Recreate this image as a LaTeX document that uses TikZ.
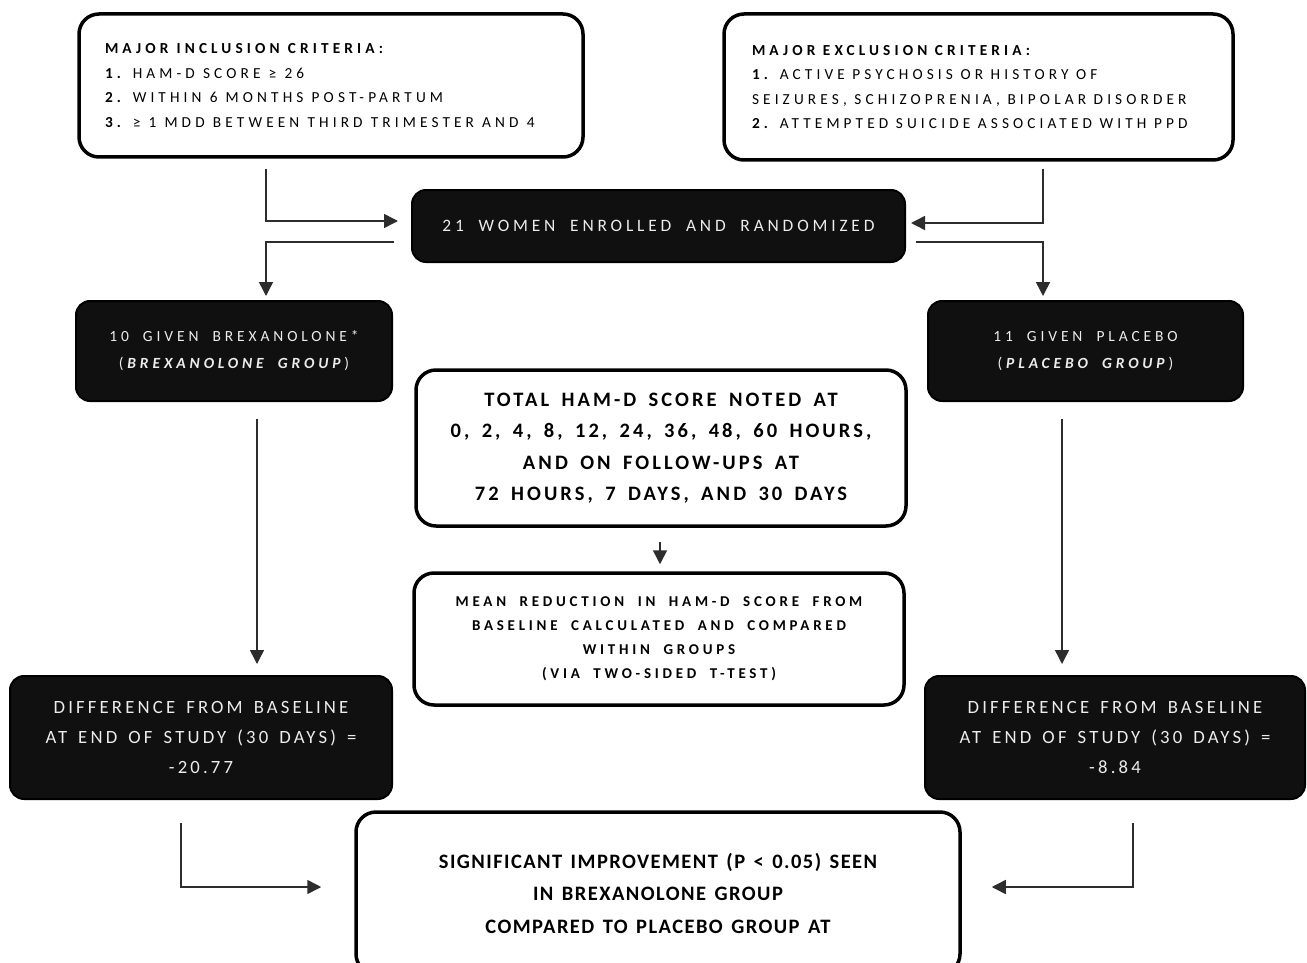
\documentclass[tikz,border=0pt]{standalone}
\usepackage{fontspec}
\setmainfont{Carlito}
\newfontfamily\fcrit{Carlito}[LetterSpace=27,WordSpace=2.2]
\newfontfamily\fenr{Carlito}[LetterSpace=22,WordSpace=1.9]
\newfontfamily\fbrex{Carlito}[LetterSpace=25,WordSpace=1.9]
\newfontfamily\fham{Carlito}[LetterSpace=15,WordSpace=1.6]
\newfontfamily\fmean{Carlito}[LetterSpace=25,WordSpace=1.9]
\newfontfamily\fdiff{Carlito}[LetterSpace=17,WordSpace=1.5]
\newfontfamily\fsig{Carlito}[LetterSpace=7,WordSpace=1.4]
\usetikzlibrary{arrows.meta}
\definecolor{boxfill}{RGB}{16,16,16}
\definecolor{boxtext}{RGB}{236,236,236}
\definecolor{linegrey}{RGB}{45,45,45}
\begin{document}
\begin{tikzpicture}[x=1pt,y=-1pt,
  wbox/.style={draw=black, line width=3.5pt, rounded corners=20pt, fill=white, inner sep=0pt, align=center},
  bbox/.style={draw=black, line width=2pt, fill=boxfill, rounded corners=14pt, text=boxtext, inner sep=0pt, align=center},
  conn/.style={draw=linegrey, line width=1.5pt, -{Triangle[length=14pt,width=14pt]}},
]
\clip (0,0) rectangle (1307,963);
\fill[white] (0,0) rectangle (1307,963);

\node[wbox, minimum width=504pt, minimum height=143pt, text width=452pt, align=left,
  font={\fcrit\fontsize{15.3}{24.5}\selectfont}] (inc) at (331,85.5)
  {\spaceskip=8.2pt\relax
   \textbf{MAJOR INCLUSION CRITERIA:}\\
   \textbf{1.} HAM-D SCORE ≥ 26\\
   \textbf{2.} WITHIN 6 MONTHS POST-PARTUM\\
   \textbf{3.} ≥ 1 MDD BETWEEN THIRD TRIMESTER AND 4};

\node[wbox, minimum width=509pt, minimum height=146pt, text width=453pt, align=left,
  font={\fcrit\fontsize{15.3}{24.5}\selectfont}] (exc) at (978.5,87)
  {\spaceskip=7.6pt\relax
   \textbf{MAJOR EXCLUSION CRITERIA:}\\
   \textbf{1.} ACTIVE PSYCHOSIS OR HISTORY OF\\
   SEIZURES, SCHIZOPRENIA, BIPOLAR DISORDER\\
   \textbf{2.} ATTEMPTED SUICIDE ASSOCIATED WITH PPD};

\node[bbox, minimum width=493pt, minimum height=72pt,
  font={\fenr\fontsize{17.4}{24}\selectfont}] (enr) at (658.5,226)
  {21 WOMEN ENROLLED AND RANDOMIZED};

\node[bbox, minimum width=316pt, minimum height=100pt,
  font={\fbrex\fontsize{15.5}{27}\selectfont}] (brex) at (234,351)
  {10 GIVEN BREXANOLONE*\\ (\textbf{\textit{BREXANOLONE GROUP}})};

\node[bbox, minimum width=315pt, minimum height=100pt,
  font={\fbrex\fontsize{15.5}{27}\selectfont}] (plac) at (1085.5,351)
  {11 GIVEN PLACEBO\\ (\textbf{\textit{PLACEBO GROUP}})};

\node[wbox, minimum width=490pt, minimum height=156pt,
  font={\fham\fontsize{20.5}{31.5}\selectfont\bfseries}] (ham) at (661,448)
  {TOTAL HAM-D SCORE NOTED AT\\
   0, 2, 4, 8, 12, 24, 36, 48, 60 HOURS,\\
   AND ON FOLLOW-UPS AT\\
   72 HOURS, 7 DAYS, AND 30 DAYS};

\node[wbox, minimum width=490pt, minimum height=132pt,
  font={\fmean\fontsize{15}{24}\selectfont\bfseries}] (mean) at (659,639)
  {MEAN REDUCTION IN HAM-D SCORE FROM\\
   BASELINE CALCULATED AND COMPARED\\
   WITHIN GROUPS\\
   (VIA TWO-SIDED T-TEST)};

\node[bbox, minimum width=382pt, minimum height=123pt,
  font={\fdiff\fontsize{18.7}{30}\selectfont}] (dl) at (201,737.5)
  {DIFFERENCE FROM BASELINE\\ AT END OF STUDY (30 DAYS) =\\ -20.77};

\node[bbox, minimum width=380pt, minimum height=123pt,
  font={\fdiff\fontsize{18.7}{30}\selectfont}] (dr) at (1115,737.5)
  {DIFFERENCE FROM BASELINE\\ AT END OF STUDY (30 DAYS) =\\ -8.84};

\node[wbox, minimum width=604pt, minimum height=162pt,
  font={\fsig\fontsize{20.5}{32.5}\selectfont\bfseries}] (sig) at (658,893)
  {SIGNIFICANT IMPROVEMENT (P < 0.05) SEEN\\
   IN BREXANOLONE GROUP\\
   COMPARED TO PLACEBO GROUP AT};

% connectors
\draw[conn] ([xshift=-65pt,yshift=-10pt]inc.south) |- ([xshift=-13pt,yshift=5pt]enr.west);
\draw[conn] ([xshift=64.5pt,yshift=-7pt]exc.south) |- ([xshift=5pt,yshift=3pt]enr.east);
\draw[conn] ([xshift=-17pt,yshift=-16pt]enr.west) -| ([xshift=32pt,yshift=4pt]brex.north);
\draw[conn] ([xshift=10pt,yshift=-16pt]enr.east) -| ([xshift=-42.5pt,yshift=4pt]plac.north);
\draw[conn] ([xshift=23pt,yshift=-17pt]brex.south) -- ([xshift=56pt,yshift=11pt]dl.north);
\draw[conn] ([xshift=-23.5pt,yshift=-17pt]plac.south) -- ([xshift=-53pt,yshift=11pt]dr.north);
\draw[conn] ([xshift=-1pt,yshift=-14pt]ham.south) -- ([xshift=1pt,yshift=7pt]mean.north);
\draw[conn] ([xshift=-20pt,yshift=-23pt]dl.south) |- ([xshift=-33pt,yshift=6pt]sig.west);
\draw[conn] ([xshift=18pt,yshift=-23pt]dr.south) |- ([xshift=30pt,yshift=6pt]sig.east);
\end{tikzpicture}
\end{document}
